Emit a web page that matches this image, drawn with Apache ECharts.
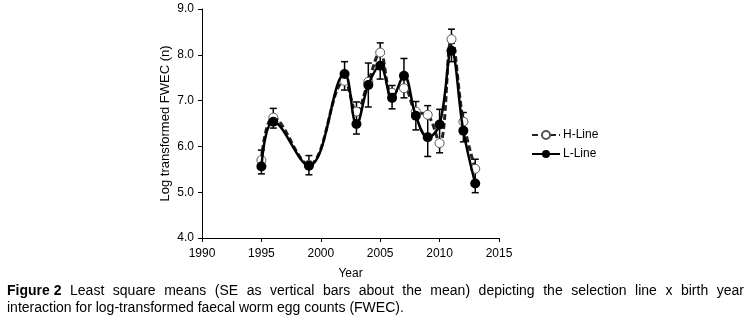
<!DOCTYPE html>
<html><head><meta charset="utf-8">
<script src="https://cdn.jsdelivr.net/npm/echarts@6/dist/echarts.min.js"></script>
<style>html,body{margin:0;padding:0;background:#fff}#c{width:746px;height:329px}</style>
</head><body><div id="c"></div>
<script>
const years = [1995, 1996, 1999, 2002, 2003, 2004, 2005, 2006, 2007, 2008, 2009, 2010, 2011, 2012, 2013];
const hLine = [5.70, 6.63, 5.60, 7.43, 6.76, 7.41, 8.05, 7.17, 7.27, 6.76, 6.69, 6.07, 8.34, 6.54, 5.51];
const lLine = [5.56, 6.54, 5.58, 7.58, 6.49, 7.34, 7.76, 7.06, 7.54, 6.67, 6.20, 6.48, 8.09, 6.34, 5.19];
const errHigh = [5.92, 6.83, 5.80, 7.85, 6.97, 7.82, 8.26, 7.33, 7.92, 6.98, 6.89, 6.81, 8.56, 6.74, 5.72];
const errLow = [5.40, 6.40, 5.38, 7.23, 6.27, 6.86, 7.47, 6.82, 7.06, 6.36, 5.78, 5.86, 7.85, 6.10, 4.99];
const yTicks = ['4.0', '5.0', '6.0', '7.0', '8.0', '9.0'];
const xTicks = ['1990', '1995', '2000', '2005', '2010', '2015'];
const captionBold = 'Figure 2';
const captionLine1 = 'Least square means (SE as vertical bars about the mean) depicting the selection line x birth year';
const captionLine2 = 'interaction for log-transformed faecal worm egg counts (FWEC).';

const font = 'Liberation Sans, Arial, sans-serif';
const capSize = 14;

// justify caption line 1 across the page width
const ctx = document.createElement('canvas').getContext('2d');
function w(t, bold) { ctx.font = (bold ? 'bold ' : '') + capSize + 'px ' + font; return ctx.measureText(t).width; }
const words = captionLine1.split(' ');
const targetW = 737;
let used = w(captionBold, true);
words.forEach(x => used += w(x, false));
const gapW = (targetW - used) / words.length;
const line1 = '{b|' + captionBold + '}' + words.map(x => '{sp|}' + x).join('');

const chart = echarts.init(document.getElementById('c'));
chart.setOption({
  animation: false,
  grid: {left: 202, right: 247, top: 9, bottom: 91},
  xAxis: {
    type: 'value', min: 1990, max: 2015, interval: 5,
    name: 'Year', nameLocation: 'middle', nameGap: 30,
    nameTextStyle: {color: '#000', fontSize: 12, fontFamily: font},
    axisLine: {lineStyle: {color: '#000', width: 1}},
    axisTick: {show: true, length: 4, lineStyle: {color: '#000'}},
    axisLabel: {color: '#000', fontSize: 12, fontFamily: font, margin: 10,
      formatter: v => xTicks[(v - 1990) / 5]},
    splitLine: {show: false}
  },
  yAxis: {
    type: 'value', min: 4, max: 9, interval: 1,
    name: 'Log transformed FWEC (n)', nameLocation: 'middle', nameGap: 30,
    nameTextStyle: {color: '#000', fontSize: 13, fontFamily: font},
    axisLine: {show: true, lineStyle: {color: '#000', width: 1}},
    axisTick: {show: true, length: 4, lineStyle: {color: '#000'}},
    axisLabel: {color: '#000', fontSize: 12, fontFamily: font, margin: 8,
      formatter: v => yTicks[Math.round(v - 4)]},
    splitLine: {show: false}
  },
  legend: {
    orient: 'vertical', left: 526, top: 124, itemGap: 7,
    itemWidth: 28, itemHeight: 10,
    textStyle: {color: '#000', fontSize: 12, fontFamily: font, padding: [0, 0, 0, -2]},
    data: ['H-Line', 'L-Line']
  },
  series: [
    {
      type: 'custom', name: 'err', silent: true, z: 1,
      data: years.map((y, i) => [y, errLow[i], errHigh[i]]),
      renderItem: (params, api) => {
        const lo = api.coord([api.value(0), api.value(1)]);
        const hi = api.coord([api.value(0), api.value(2)]);
        const hw = 3.5;
        const st = {stroke: '#000', lineWidth: 1.5};
        return {type: 'group', children: [
          {type: 'line', shape: {x1: lo[0], y1: lo[1], x2: hi[0], y2: hi[1]}, style: st},
          {type: 'line', shape: {x1: lo[0] - hw, y1: lo[1], x2: lo[0] + hw, y2: lo[1]}, style: st},
          {type: 'line', shape: {x1: hi[0] - hw, y1: hi[1], x2: hi[0] + hw, y2: hi[1]}, style: st}
        ]};
      }
    },
    {
      type: 'line', name: 'H-Line', smooth: 0.4, z: 2,
      data: years.map((y, i) => [y, hLine[i]]),
      symbol: 'circle', symbolSize: 9,
      itemStyle: {color: '#fff', borderColor: '#555', borderWidth: 1},
      lineStyle: {color: '#222', width: 3, type: [6, 3]}
    },
    {
      type: 'line', name: 'L-Line', smooth: 0.4, z: 3,
      data: years.map((y, i) => [y, lLine[i]]),
      symbol: 'circle', symbolSize: 10,
      itemStyle: {color: '#000', borderColor: '#000', borderWidth: 0},
      lineStyle: {color: '#000', width: 2.5}
    }
  ],
  graphic: [
    {type: 'text', left: 7, top: 284, style: {
      text: line1,
      rich: {
        b: {fontWeight: 'bold', fontSize: capSize, fontFamily: font, fill: '#000'},
        sp: {width: gapW, height: 1}
      },
      fontSize: capSize, fontFamily: font, fill: '#000'}},
    {type: 'text', left: 7, top: 301, style: {
      text: captionLine2,
      fontSize: capSize, fontFamily: font, fill: '#000'}}
  ]
});
</script></body></html>
